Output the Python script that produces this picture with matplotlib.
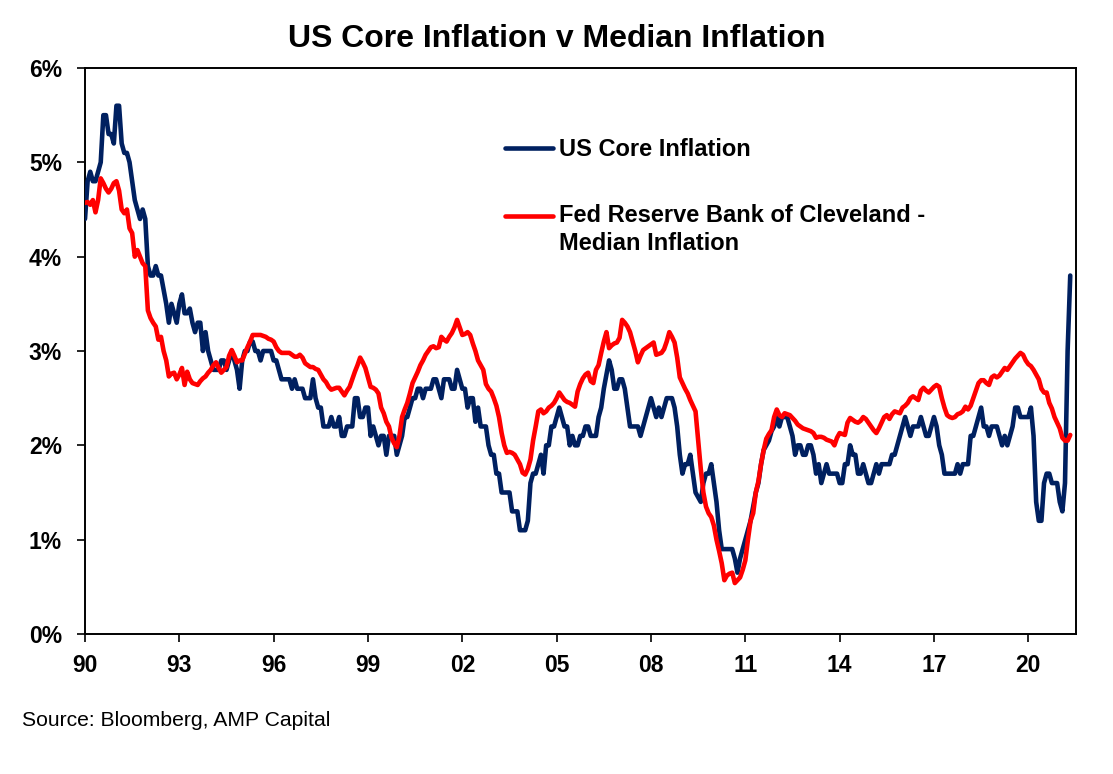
import numpy as np
import matplotlib
matplotlib.use("Agg")
import matplotlib.pyplot as plt
from matplotlib.legend_handler import HandlerLine2D
from matplotlib.ticker import FixedLocator, FuncFormatter

plt.rcParams['font.family'] = ['Liberation Sans', 'DejaVu Sans']

# ---------------- data (monthly, Jan 1990 - May 2021), % y/y ----------------
start_year = 1990
core_cpi = [
    # 1990
    4.4, 4.8, 4.9, 4.8, 4.8, 4.9, 5.0, 5.5, 5.5, 5.3, 5.3, 5.2,
    # 1991
    5.6, 5.6, 5.2, 5.1, 5.1, 5.0, 4.8, 4.6, 4.5, 4.4, 4.5, 4.4,
    # 1992
    3.9, 3.8, 3.8, 3.9, 3.8, 3.8, 3.65, 3.5, 3.3, 3.5, 3.4, 3.3,
    # 1993
    3.5, 3.6, 3.4, 3.4, 3.45, 3.3, 3.2, 3.3, 3.3, 3.0, 3.2, 3.0,
    # 1994
    2.9, 2.8, 2.8, 2.8, 2.9, 2.9, 2.8, 2.9, 3.0, 2.9, 2.8, 2.6,
    # 1995
    2.9, 3.0, 3.0, 3.1, 3.1, 3.0, 3.0, 2.9, 3.0, 3.0, 3.0, 3.0,
    # 1996
    2.9, 2.9, 2.8, 2.7, 2.7, 2.7, 2.7, 2.6, 2.7, 2.6, 2.6, 2.6,
    # 1997
    2.5, 2.5, 2.5, 2.7, 2.5, 2.4, 2.4, 2.2, 2.2, 2.2, 2.3, 2.2,
    # 1998
    2.2, 2.3, 2.1, 2.1, 2.2, 2.2, 2.2, 2.5, 2.5, 2.3, 2.3, 2.4,
    # 1999
    2.4, 2.1, 2.2, 2.1, 2.0, 2.1, 2.1, 1.9, 2.1, 2.1, 2.1, 1.9,
    # 2000
    2.0, 2.1, 2.3, 2.3, 2.4, 2.5, 2.5, 2.6, 2.6, 2.5, 2.6, 2.6,
    # 2001
    2.6, 2.7, 2.7, 2.6, 2.5, 2.7, 2.7, 2.7, 2.6, 2.6, 2.8, 2.7,
    # 2002
    2.6, 2.6, 2.4, 2.5, 2.5, 2.25, 2.4, 2.2, 2.2, 2.2, 2.0, 1.9,
    # 2003
    1.9, 1.7, 1.7, 1.5, 1.5, 1.5, 1.5, 1.3, 1.3, 1.3, 1.1, 1.1,
    # 2004
    1.1, 1.2, 1.6, 1.7, 1.7, 1.8, 1.9, 1.7, 2.0, 2.0, 2.2, 2.2,
    # 2005
    2.3, 2.4, 2.3, 2.2, 2.2, 2.0, 2.1, 2.0, 2.0, 2.1, 2.1, 2.2,
    # 2006
    2.2, 2.1, 2.1, 2.1, 2.3, 2.4, 2.6, 2.75, 2.9, 2.8, 2.6, 2.6,
    # 2007
    2.7, 2.7, 2.6, 2.4, 2.2, 2.2, 2.2, 2.2, 2.1, 2.2, 2.3, 2.4,
    # 2008
    2.5, 2.4, 2.3, 2.4, 2.3, 2.4, 2.5, 2.5, 2.5, 2.4, 2.2, 1.9,
    # 2009
    1.7, 1.8, 1.8, 1.9, 1.7, 1.5, 1.45, 1.4, 1.6, 1.7, 1.7, 1.8,
    # 2010
    1.6, 1.4, 1.1, 0.9, 0.9, 0.9, 0.9, 0.9, 0.8, 0.65, 0.8, 0.9,
    # 2011
    1.0, 1.1, 1.2, 1.35, 1.5, 1.6, 1.8, 1.95, 2.0, 2.05, 2.15, 2.2,
    # 2012
    2.3, 2.2, 2.3, 2.3, 2.3, 2.2, 2.1, 1.9, 2.0, 2.0, 1.9, 1.9,
    # 2013
    2.0, 2.0, 1.9, 1.7, 1.8, 1.6, 1.7, 1.8, 1.7, 1.7, 1.7, 1.7,
    # 2014
    1.6, 1.6, 1.8, 1.8, 2.0, 1.9, 1.9, 1.7, 1.7, 1.8, 1.7, 1.6,
    # 2015
    1.6, 1.7, 1.8, 1.7, 1.8, 1.8, 1.8, 1.8, 1.9, 1.9, 2.0, 2.1,
    # 2016
    2.2, 2.3, 2.2, 2.1, 2.2, 2.2, 2.2, 2.3, 2.2, 2.1, 2.1, 2.2,
    # 2017
    2.3, 2.2, 2.0, 1.9, 1.7, 1.7, 1.7, 1.7, 1.7, 1.8, 1.7, 1.8,
    # 2018
    1.8, 1.8, 2.1, 2.1, 2.2, 2.3, 2.4, 2.2, 2.2, 2.1, 2.2, 2.2,
    # 2019
    2.2, 2.1, 2.0, 2.1, 2.0, 2.1, 2.2, 2.4, 2.4, 2.3, 2.3, 2.3,
    # 2020
    2.3, 2.4, 2.1, 1.4, 1.2, 1.2, 1.6, 1.7, 1.7, 1.6, 1.6, 1.6,
    # 2021
    1.4, 1.3, 1.6, 3.0, 3.8,
]

median_cpi = [
    # 1990
    4.57, 4.58, 4.55, 4.6, 4.47, 4.6, 4.83, 4.78, 4.72, 4.68, 4.72, 4.78,
    # 1991
    4.8, 4.7, 4.5, 4.46, 4.5, 4.3, 4.25, 4.0, 4.07, 4.0, 3.93, 3.9,
    # 1992
    3.43, 3.35, 3.3, 3.26, 3.12, 3.15, 3.0, 2.9, 2.73, 2.76, 2.77, 2.7,
    # 1993
    2.75, 2.82, 2.64, 2.78, 2.7, 2.66, 2.65, 2.64, 2.68, 2.71, 2.73, 2.77,
    # 1994
    2.8, 2.85, 2.88, 2.82, 2.77, 2.8, 2.83, 2.95, 3.01, 2.95, 2.88, 2.9,
    # 1995
    2.9, 2.97, 3.04, 3.1, 3.17, 3.17, 3.17, 3.17, 3.16, 3.15, 3.13, 3.12,
    # 1996
    3.1, 3.04, 3.0, 2.98, 2.98, 2.98, 2.98, 2.96, 2.94, 2.94, 2.96, 2.93,
    # 1997
    2.87, 2.85, 2.83, 2.83, 2.81, 2.8, 2.75, 2.7, 2.67, 2.62, 2.59, 2.6,
    # 1998
    2.61, 2.61, 2.57, 2.53, 2.58, 2.62, 2.7, 2.78, 2.85, 2.93, 2.88, 2.82,
    # 1999
    2.72, 2.62, 2.61, 2.59, 2.55, 2.4, 2.34, 2.25, 2.2, 2.08, 2.02, 1.98,
    # 2000
    2.1, 2.3, 2.38, 2.45, 2.55, 2.66, 2.72, 2.78, 2.85, 2.9, 2.96, 3.0,
    # 2001
    3.04, 3.05, 3.03, 3.04, 3.15, 3.12, 3.1, 3.15, 3.19, 3.25, 3.33, 3.25,
    # 2002
    3.17, 3.18, 3.2, 3.17, 3.08, 3.0, 2.9, 2.85, 2.8, 2.65, 2.6, 2.57,
    # 2003
    2.5, 2.42, 2.3, 2.13, 2.0, 1.92, 1.93, 1.92, 1.9, 1.85, 1.8, 1.71,
    # 2004
    1.69, 1.75, 1.85, 2.05, 2.2, 2.36, 2.38, 2.34, 2.36, 2.4, 2.42, 2.45,
    # 2005
    2.5, 2.56, 2.52, 2.48, 2.46, 2.45, 2.43, 2.41, 2.57, 2.65, 2.71, 2.75,
    # 2006
    2.77, 2.68, 2.66, 2.8, 2.85, 2.98, 3.1, 3.2, 3.03, 3.06, 3.08, 3.09,
    # 2007
    3.14, 3.33, 3.3, 3.26, 3.2, 3.1, 3.0, 2.88, 2.95, 3.01, 3.03, 3.05,
    # 2008
    3.07, 3.09, 2.96, 2.97, 2.98, 3.02, 3.1, 3.2, 3.15, 3.09, 2.93, 2.72,
    # 2009
    2.66, 2.6, 2.55, 2.48, 2.42, 2.36, 2.06, 1.75, 1.5, 1.35, 1.28, 1.24,
    # 2010
    1.15, 1.0, 0.88, 0.75, 0.57, 0.62, 0.64, 0.65, 0.54, 0.57, 0.6, 0.68,
    # 2011
    0.78, 1.0, 1.2, 1.28, 1.5, 1.62, 1.8, 1.95, 2.07, 2.12, 2.16, 2.3,
    # 2012
    2.38, 2.32, 2.3, 2.34, 2.33, 2.32, 2.29, 2.26, 2.22, 2.2, 2.18, 2.17,
    # 2013
    2.16, 2.15, 2.13, 2.08, 2.09, 2.09, 2.08, 2.06, 2.05, 2.04, 2.0, 2.08,
    # 2014
    2.13, 2.12, 2.11, 2.24, 2.29, 2.27, 2.25, 2.24, 2.26, 2.3, 2.28, 2.24,
    # 2015
    2.2, 2.16, 2.13, 2.18, 2.24, 2.3, 2.32, 2.28, 2.33, 2.36, 2.35, 2.34,
    # 2016
    2.4, 2.42, 2.45, 2.5, 2.52, 2.5, 2.48, 2.58, 2.61, 2.58, 2.56, 2.59,
    # 2017
    2.62, 2.64, 2.62, 2.5, 2.4, 2.32, 2.3, 2.29, 2.3, 2.33, 2.34, 2.36,
    # 2018
    2.41, 2.38, 2.42, 2.5, 2.58, 2.66, 2.69, 2.69, 2.66, 2.64, 2.72, 2.74,
    # 2019
    2.72, 2.74, 2.78, 2.82, 2.8, 2.84, 2.88, 2.92, 2.95, 2.98, 2.96, 2.9,
    # 2020
    2.86, 2.84, 2.8, 2.75, 2.7, 2.6, 2.56, 2.56, 2.45, 2.39, 2.3, 2.24,
    # 2021
    2.18, 2.08, 2.05, 2.05, 2.11,
]

tick_years = [1990, 1993, 1996, 1999, 2002, 2005, 2008, 2011, 2014, 2017, 2020]
tick_labels = ["90", "93", "96", "99", "02", "05", "08", "11", "14", "17", "20"]
y_ticks = [0, 1, 2, 3, 4, 5, 6]

series_names = ["US Core Inflation", "Fed Reserve Bank of Cleveland -\nMedian Inflation"]
title = "US Core Inflation v Median Inflation"
source = "Source: Bloomberg, AMP Capital"

# ---------------- figure ----------------
navy = "#002060"
red = "#FF0000"

n = len(core_cpi)
dates = start_year + np.arange(n) / 12.0

fig = plt.figure(figsize=(11.13, 7.74), dpi=100)
ax = fig.add_axes([85 / 1113, 1 - 634 / 774, (1076 - 85) / 1113, (634 - 68) / 774])

l1, = ax.plot(dates, core_cpi, color=navy, lw=3.3, solid_joinstyle="round",
              solid_capstyle="round", zorder=3)
l2, = ax.plot(dates, median_cpi, color=red, lw=3.3, solid_joinstyle="round",
              solid_capstyle="round", zorder=4)

ax.set_xlim(start_year, start_year + 378.2 / 12.0)
ax.set_ylim(0, 6)

ax.xaxis.set_major_locator(FixedLocator(tick_years))
ax.set_xticklabels(tick_labels)
ax.yaxis.set_major_locator(FixedLocator(y_ticks))
ax.yaxis.set_major_formatter(FuncFormatter(lambda v, p: f"{int(v)}%"))

for sp in ax.spines.values():
    sp.set_linewidth(1.4)
    sp.set_color("black")

ax.tick_params(axis="x", length=5.8, width=1.2, pad=8.3, labelsize=16.5, direction="out")
ax.tick_params(axis="y", length=5.8, width=1.2, pad=10.8, labelsize=16.5, direction="out")
for lab in ax.get_xticklabels() + ax.get_yticklabels():
    lab.set_fontweight("bold")


class RaisedLine(HandlerLine2D):
    def __init__(self, shift=0.0, **kw):
        super().__init__(**kw)
        self.shift = shift

    def create_artists(self, legend, orig_handle, xdescent, ydescent, width, height,
                       fontsize, trans):
        arts = super().create_artists(legend, orig_handle, xdescent, ydescent, width,
                                      height, fontsize, trans)
        for a in arts:
            a.set_ydata(np.asarray(a.get_ydata(), dtype=float) + self.shift)
        return arts


leg = ax.legend([l1, l2], series_names, loc="upper left",
                bbox_to_anchor=((505 - 85) / 991, 1 - (138 - 68) / 566),
                frameon=False, prop={"weight": "bold", "size": 17},
                handlelength=2.03, handletextpad=0.25, labelspacing=1.8,
                borderpad=0, borderaxespad=0,
                handler_map={l2: RaisedLine(shift=10.5)})
for t in leg.get_texts():
    t.set_linespacing(1.32)

fig.text(0.5, 1 - 39 / 774, title, ha="center", va="center",
         fontsize=23, fontweight="bold")
fig.text(22 / 1113, 1 - 720 / 774, source, ha="left", va="center", fontsize=15.2)

fig.savefig("out.png", dpi=100)
